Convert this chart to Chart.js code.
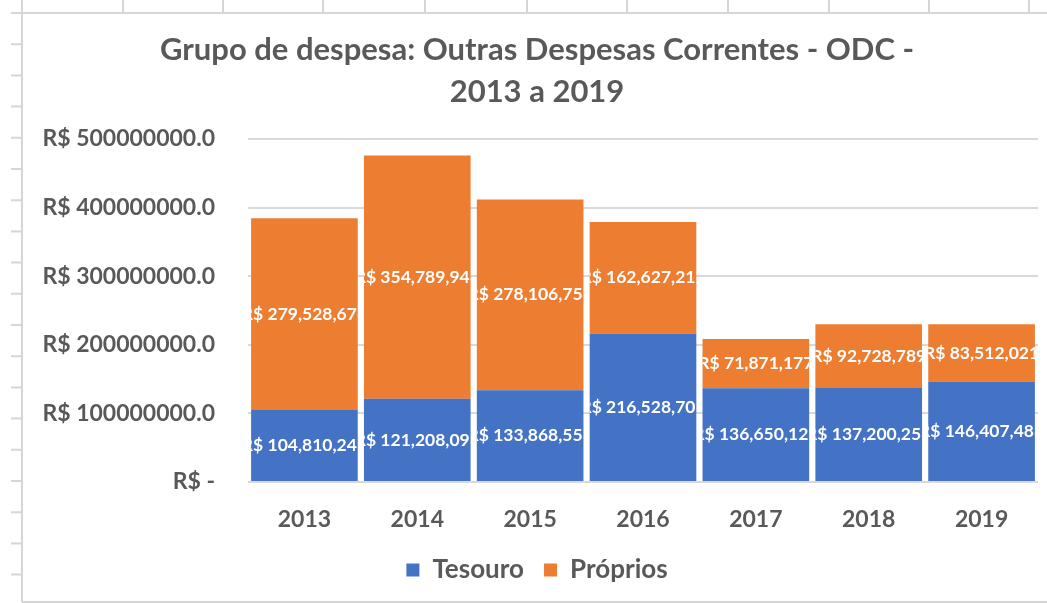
<!DOCTYPE html>
<html>
<head>
<meta charset="utf-8">
<style>
  html, body { margin: 0; padding: 0; background: #ffffff; overflow: hidden; }
  #wrap { position: absolute; left: 0; top: 0; width: 1047px; height: 603px; }
</style>
<script src="https://cdn.jsdelivr.net/npm/chart.js@4.4.1/dist/chart.umd.min.js"></script>
</head>
<body>
<div id="wrap"><canvas id="c" width="1047" height="603"></canvas></div>
<script>
// ---- data ----
const categories = ['2013', '2014', '2015', '2016', '2017', '2018', '2019'];
const tesouro = [104810245, 121208093, 133868553, 216528701, 136650123, 137200253, 146407483];
const proprios = [279528676, 354789943, 278106759, 162627213, 71871177, 92728789, 83512021];
const seriesNames = ['Tesouro', 'Próprios'];
const titleLines = ['Grupo de despesa: Outras Despesas Correntes - ODC -', '2013 a 2019'];
const yTickValues = [0, 100000000, 200000000, 300000000, 400000000, 500000000];

const GRAY_TEXT = '#595959';
const FONT = 'Lato';

function fmtMoney(v) {
  return 'R$ ' + Math.round(v).toLocaleString('en-US');
}

// spreadsheet cell-grid decoration around the chart object
const sheetPlugin = {
  id: 'sheet',
  beforeDraw(chart) {
    const ctx = chart.ctx;
    ctx.save();
    ctx.strokeStyle = '#d6d6d6';
    ctx.lineWidth = 2;
    ctx.beginPath();
    ctx.moveTo(11, 13); ctx.lineTo(1047, 13);
    [123, 223, 323, 425, 527, 627, 728, 829, 929, 1029].forEach(x => {
      ctx.moveTo(x, 0); ctx.lineTo(x, 13);
    });
    ctx.moveTo(22, 0); ctx.lineTo(22, 602);
    ctx.moveTo(22, 602); ctx.lineTo(1047, 602);
    for (let k = 0; k < 19; k++) {
      const y = 13 + k * 31.2;
      ctx.moveTo(11, y); ctx.lineTo(22, y);
    }
    ctx.stroke();
    ctx.restore();
  }
};

// white value labels centred in each bar segment, clipped to the bar
const labelPlugin = {
  id: 'barLabels',
  afterDatasetsDraw(chart) {
    const ctx = chart.ctx;
    chart.data.datasets.forEach((ds, i) => {
      const meta = chart.getDatasetMeta(i);
      meta.data.forEach((bar, j) => {
        const p = bar.getProps(['x', 'y', 'base', 'width'], true);
        const top = Math.min(p.y, p.base);
        const h = Math.abs(p.base - p.y);
        ctx.save();
        ctx.beginPath();
        ctx.rect(p.x - p.width / 2, top, p.width, h);
        ctx.clip();
        ctx.fillStyle = '#ffffff';
        ctx.font = 'bold 17.5px ' + FONT;
        ctx.textAlign = 'center';
        ctx.textBaseline = 'middle';
        ctx.fillText(fmtMoney(ds.data[j]), p.x, top + h / 2);
        ctx.restore();
      });
    });
  }
};

new Chart(document.getElementById('c'), {
  type: 'bar',
  data: {
    labels: categories,
    datasets: [
      { label: seriesNames[0], data: tesouro, backgroundColor: '#4472C4', borderWidth: 0 },
      { label: seriesNames[1], data: proprios, backgroundColor: '#ED7D31', borderWidth: 0 }
    ]
  },
  options: {
    responsive: false,
    animation: false,
    events: [],
    layout: { padding: { top: 13, left: 36, right: 9, bottom: 10 } },
    datasets: { bar: { categoryPercentage: 1.0, barPercentage: 0.945 } },
    plugins: {
      title: {
        display: true,
        text: titleLines,
        color: GRAY_TEXT,
        font: { family: FONT, size: 31, weight: 'bold', lineHeight: 42 / 31 },
        padding: { top: 16, bottom: 26 }
      },
      legend: {
        position: 'bottom',
        labels: {
          color: GRAY_TEXT,
          font: { family: FONT, size: 26, weight: 'bold' },
          boxWidth: 13, boxHeight: 13,
          padding: 20
        }
      },
      tooltip: { enabled: false }
    },
    scales: {
      x: {
        stacked: true,
        grid: { display: false, drawTicks: false },
        border: { display: false },
        afterFit(scale) { scale.height = 55; },
        ticks: { color: GRAY_TEXT, font: { family: FONT, size: 23, weight: 'bold' }, padding: 24 }
      },
      y: {
        stacked: true,
        min: 0, max: 500000000,
        afterBuildTicks(scale) { scale.ticks = yTickValues.map(v => ({ value: v })); },
        afterFit(scale) { scale.width = 212; },
        grid: { color: '#d9d9d9', lineWidth: 2, drawTicks: false },
        border: { display: false },
        ticks: {
          color: GRAY_TEXT,
          font: { family: FONT, size: 23, weight: 'bold' },
          padding: 33,
          callback: (v) => v === 0 ? 'R$ -' : 'R$ ' + v + '.0'
        }
      }
    }
  },
  plugins: [sheetPlugin, labelPlugin]
});
</script>
</body>
</html>
